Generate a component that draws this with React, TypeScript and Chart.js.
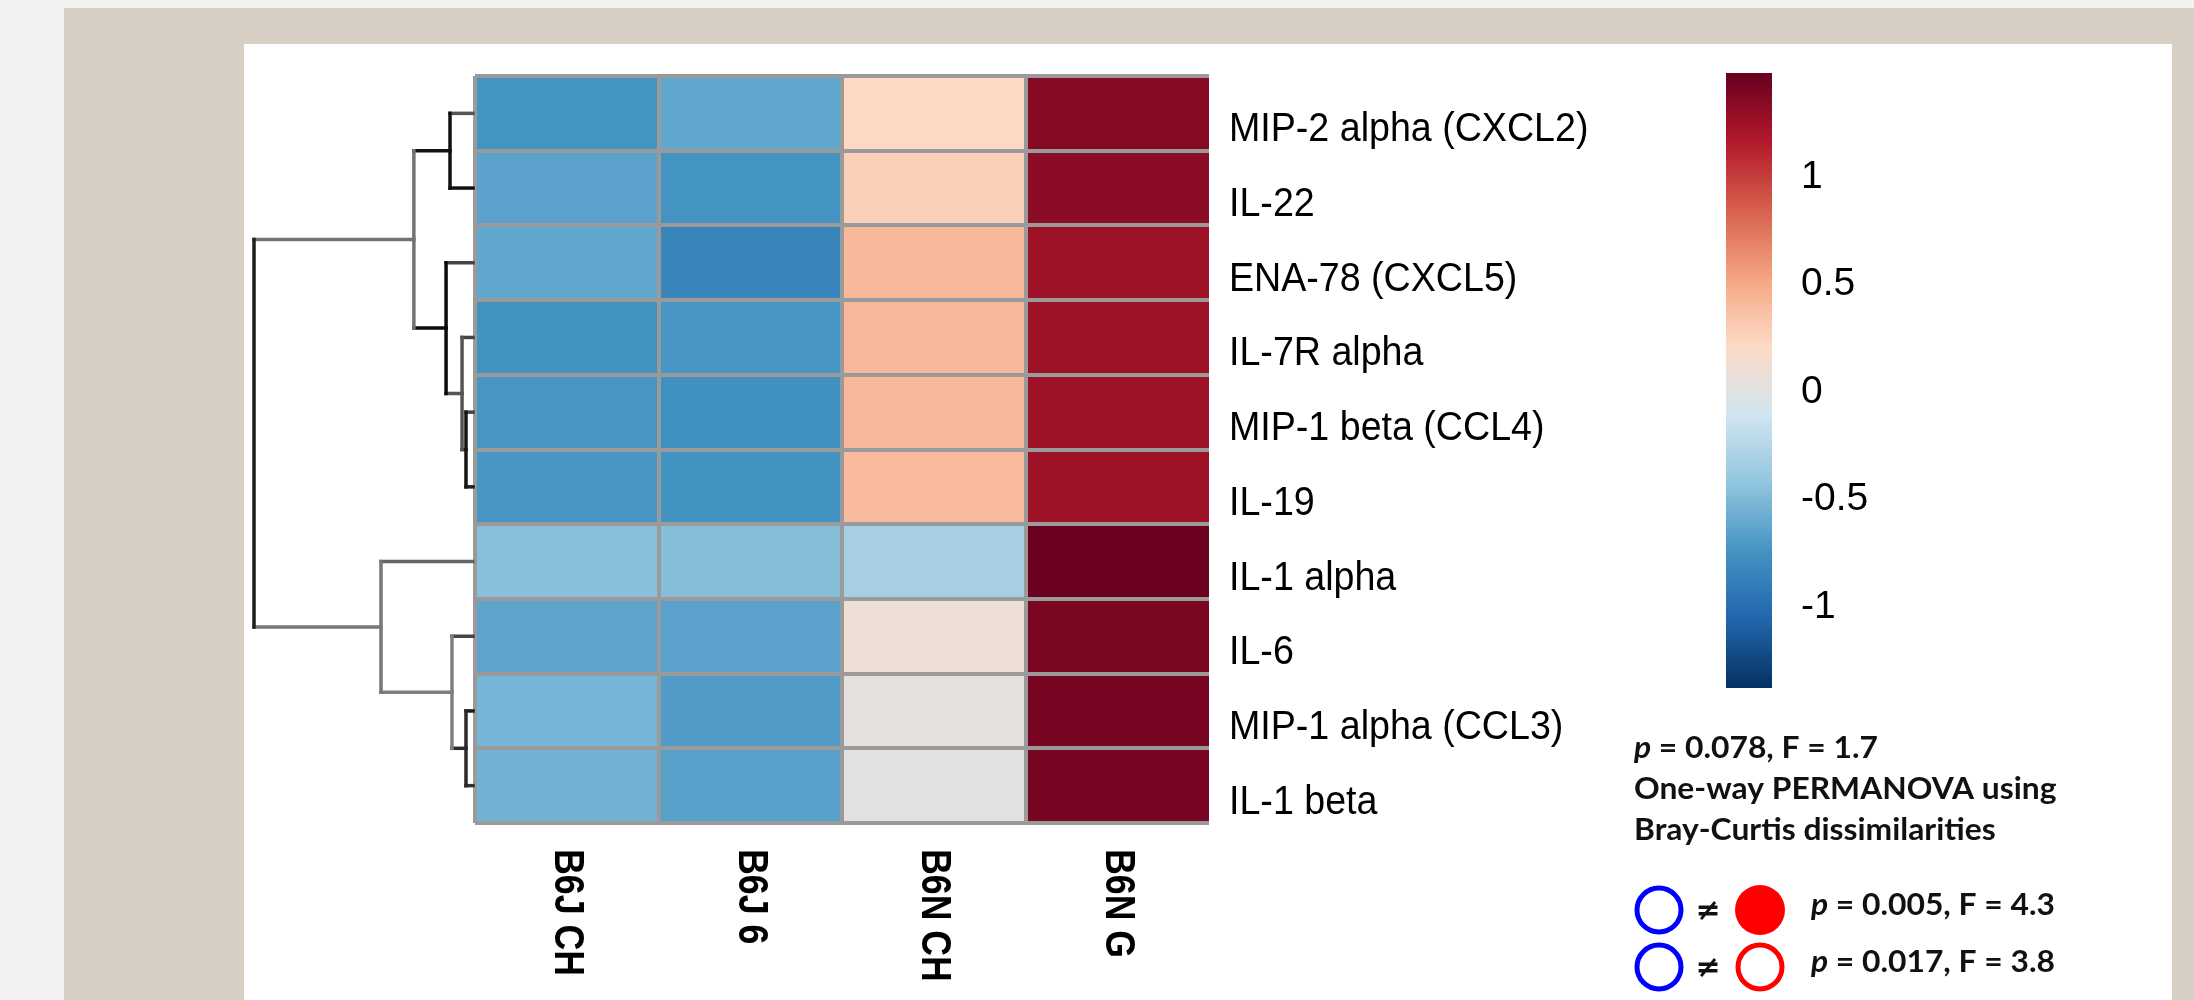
import React, { useEffect, useRef } from 'react';
import { Chart, registerables } from 'chart.js';

Chart.register(...registerables);

// ---------------- data ----------------
const rowLabels = [
  'MIP-2 alpha (CXCL2)',
  'IL-22',
  'ENA-78 (CXCL5)',
  'IL-7R alpha',
  'MIP-1 beta (CCL4)',
  'IL-19',
  'IL-1 alpha',
  'IL-6',
  'MIP-1 alpha (CCL3)',
  'IL-1 beta',
];
const colLabels = ['B6J CH', 'B6J 6', 'B6N CH', 'B6N G'];

const valuesB6JCH = [-0.74, -0.65, -0.62, -0.75, -0.73, -0.72, -0.46, -0.63, -0.53, -0.55];
const valuesB6J6 = [-0.62, -0.74, -0.84, -0.72, -0.76, -0.75, -0.47, -0.65, -0.69, -0.66];
const valuesB6NCH = [0.23, 0.28, 0.41, 0.42, 0.42, 0.4, -0.32, 0.1, 0.04, 0.02];
const valuesB6NG = [1.35, 1.33, 1.25, 1.25, 1.25, 1.25, 1.47, 1.4, 1.41, 1.41];
const columnValues = [valuesB6JCH, valuesB6J6, valuesB6NCH, valuesB6NG];

const colorbarMin = -1.377;
const colorbarMax = 1.484;
const colorbarTicks = [-1, -0.5, 0, 0.5, 1];
const paletteStops = [
  '#053061', '#2166ac', '#4393c3', '#92c5de', '#d1e5f0',
  '#fddbc7', '#f4a582', '#d6604d', '#b2182b', '#67001f',
];

// dendrogram (hclust style: negative = row index+1, positive = earlier merge number)
const dendroMerges = [
  [-5, -6], [-4, 1], [-3, 2], [-1, -2], [4, 3],
  [-9, -10], [-8, 6], [-7, 7], [5, 8],
];
const dendroHeights = [0.032, 0.05, 0.123, 0.105, 0.27, 0.032, 0.096, 0.42, 1.0];

const statsLines = [
  [{ text: 'p', italic: true }, { text: ' = 0.078, F = 1.7' }],
  [{ text: 'One-way PERMANOVA using' }],
  [{ text: 'Bray-Curtis dissimilarities' }],
];
const comparisonFilled = [true, false];
const comparisonTexts = [' = 0.005, F = 4.3', ' = 0.017, F = 3.8'];

// ---------------- styles ----------------
const nodeColors = ['#151515', '#555555', '#0a0a0a', '#111111', '#737373', '#2a2a2a', '#7f7f7f', '#777777', '#1e1e1e'];
const tipColors = ['#555555', '#111111', '#444444', '#444444', '#444444', '#222222', '#666666', '#444444', '#1a1a1a', '#333333'];
const gridGray = '#9a9a9a';

function hexToRgb(h: string) {
  const n = parseInt(h.slice(1), 16);
  return [(n >> 16) & 255, (n >> 8) & 255, n & 255];
}
function valueToColor(v: number) {
  let t = (v - colorbarMin) / (colorbarMax - colorbarMin);
  t = Math.max(0, Math.min(1, t));
  const f = t * (paletteStops.length - 1);
  const i = Math.min(paletteStops.length - 2, Math.floor(f));
  const u = f - i;
  const a = hexToRgb(paletteStops[i]);
  const b = hexToRgb(paletteStops[i + 1]);
  const c = a.map((x, k) => Math.round(x + (b[k] - x) * u));
  return `rgb(${c[0]},${c[1]},${c[2]})`;
}

const W = 2194;
const H = 1000;

const heatLabelsPlugin = {
  id: 'heatLabels',
  afterDraw(chart: any) {
    const { ctx, chartArea, scales } = chart;
    const ys = scales.y;
    const xs = scales.x;
    ctx.save();
    ctx.fillStyle = '#000';
    // row labels
    ctx.font = '40px "Liberation Sans", Arial, sans-serif';
    ctx.textAlign = 'left';
    ctx.textBaseline = 'alphabetic';
    rowLabels.forEach((lab, i) => {
      const y = ys.getPixelForValue(i);
      ctx.save();
      ctx.translate(chartArea.right + 20, y + 28);
      ctx.scale(0.94, 1);
      ctx.fillText(lab, 0, 0);
      ctx.restore();
    });
    // column labels (rotated clockwise)
    ctx.font = 'bold 42px "Liberation Sans", Arial, sans-serif';
    ctx.textBaseline = 'middle';
    colLabels.forEach((lab, j) => {
      const x = xs.getPixelForValue(j + 0.5);
      ctx.save();
      ctx.translate(x, chartArea.bottom + 26);
      ctx.rotate(Math.PI / 2);
      ctx.scale(0.85, 1);
      ctx.fillText(lab, 0, 0);
      ctx.restore();
    });
    // dendrogram
    const tipX = chartArea.left - 2;
    const dw = 219;
    const pos: { x: number; y: number }[] = [];
    const getPos = (r: number) =>
      r < 0 ? { x: tipX, y: ys.getPixelForValue(-r - 1) } : pos[r - 1];
    const colorOf = (r: number) => (r < 0 ? tipColors[-r - 1] : nodeColors[r - 1]);
    ctx.lineWidth = 3.5;
    ctx.lineCap = 'square';
    dendroMerges.forEach(([a, b], k) => {
      const pa = getPos(a);
      const pb = getPos(b);
      const nx = tipX - dendroHeights[k] * dw;
      const ny = (pa.y + pb.y) / 2;
      pos[k] = { x: nx, y: ny };
      [[a, pa], [b, pb]].forEach(([r, p]: any) => {
        ctx.strokeStyle = colorOf(r);
        ctx.beginPath();
        ctx.moveTo(p.x, p.y);
        ctx.lineTo(nx, p.y);
        ctx.stroke();
      });
      ctx.strokeStyle = nodeColors[k];
      ctx.beginPath();
      ctx.moveTo(nx, pa.y);
      ctx.lineTo(nx, pb.y);
      ctx.stroke();
    });
    ctx.restore();
  },
};

const STATS_SIZE = 30;
const STATS_STRETCH = 1.06;

function drawParts(ctx: any, x: number, y: number, parts: { text: string; italic?: boolean }[]) {
  ctx.save();
  ctx.translate(x, y);
  ctx.scale(STATS_STRETCH, 1);
  let cx = 0;
  parts.forEach((p) => {
    ctx.font = `${p.italic ? 'italic ' : ''}bold ${STATS_SIZE}px Lato, "DejaVu Sans", sans-serif`;
    ctx.fillText(p.text, cx, 0);
    cx += ctx.measureText(p.text).width;
  });
  ctx.restore();
}

const statsPlugin = {
  id: 'stats',
  afterDraw(chart: any) {
    const { ctx } = chart;
    ctx.save();
    ctx.fillStyle = '#111';
    ctx.textAlign = 'left';
    ctx.textBaseline = 'alphabetic';
    const baselines = [758, 799, 840];
    statsLines.forEach((parts, i) => drawParts(ctx, 1634, baselines[i], parts));
    const rowsY = [910, 967];
    comparisonTexts.forEach((t, i) => {
      const cy = rowsY[i];
      ctx.lineWidth = 5;
      ctx.strokeStyle = '#0000ff';
      ctx.beginPath();
      ctx.arc(1659, cy, 22, 0, Math.PI * 2);
      ctx.stroke();
      ctx.fillStyle = '#111';
      ctx.font = 'bold 30px "DejaVu Sans", sans-serif';
      ctx.textAlign = 'center';
      ctx.fillText('\u2260', 1708, cy + 10);
      ctx.textAlign = 'left';
      ctx.beginPath();
      ctx.arc(1760, cy, comparisonFilled[i] ? 25 : 22, 0, Math.PI * 2);
      if (comparisonFilled[i]) {
        ctx.fillStyle = '#ff0000';
        ctx.fill();
      } else {
        ctx.strokeStyle = '#ff0000';
        ctx.stroke();
      }
      ctx.fillStyle = '#111';
      drawParts(ctx, 1811, cy + 5, [{ text: 'p', italic: true }, { text: t }]);
    });
    ctx.restore();
  },
};

export default function App() {
  const heatRef = useRef<HTMLCanvasElement | null>(null);
  const barRef = useRef<HTMLCanvasElement | null>(null);

  useEffect(() => {
    const heat = new Chart(heatRef.current as HTMLCanvasElement, {
      type: 'bar',
      data: {
        labels: rowLabels,
        datasets: columnValues.map((vals, j) => ({
          label: colLabels[j],
          data: vals.map(() => [j, j + 1]),
          backgroundColor: vals.map(valueToColor),
          borderWidth: 0,
          barPercentage: 1,
          categoryPercentage: 1,
          grouped: false,
        })) as any,
      },
      options: {
        animation: false,
        responsive: false,
        indexAxis: 'y',
        events: [],
        layout: { padding: { left: 475, top: 76, right: W - 1209, bottom: H - 823 } },
        plugins: { legend: { display: false }, tooltip: { enabled: false } },
        scales: {
          x: {
            type: 'linear',
            min: 0,
            max: colLabels.length,
            ticks: { display: false, stepSize: 1 },
            grid: {
              z: 1,
              color: (c: any) => (c.tick && c.tick.value === colLabels.length ? 'rgba(0,0,0,0)' : gridGray),
              lineWidth: 4,
              drawTicks: false,
            },
            border: { display: false },
          },
          y: {
            type: 'category',
            ticks: { display: false },
            grid: { z: 1, offset: true, color: gridGray, lineWidth: 4, drawTicks: false },
            border: { display: false },
          },
        },
      } as any,
      plugins: [heatLabelsPlugin],
    });

    const bar = new Chart(barRef.current as HTMLCanvasElement, {
      type: 'bar',
      data: {
        labels: ['scale'],
        datasets: [
          {
            data: [[colorbarMin, colorbarMax]],
            backgroundColor: (c: any) => {
              const area = c.chart.chartArea;
              if (!area) return '#ccc';
              const g = c.chart.ctx.createLinearGradient(0, area.bottom, 0, area.top);
              paletteStops.forEach((col, i) => g.addColorStop(i / (paletteStops.length - 1), col));
              return g;
            },
            borderWidth: 0,
            barPercentage: 1,
            categoryPercentage: 1,
          },
        ] as any,
      },
      options: {
        animation: false,
        responsive: false,
        events: [],
        layout: { padding: { left: 1726, top: 73, right: W - 1772 - 200, bottom: H - 688 } },
        plugins: { legend: { display: false }, tooltip: { enabled: false } },
        scales: {
          x: { display: false },
          y: {
            position: 'right',
            min: colorbarMin,
            max: colorbarMax,
            afterBuildTicks: (s: any) => {
              s.ticks = colorbarTicks.map((v) => ({ value: v }));
            },
            afterFit: (s: any) => {
              s.width = 200;
            },
            ticks: {
              color: '#000',
              padding: 29,
              font: { family: '"Liberation Sans", Arial, sans-serif', size: 39 },
              callback: (v: any) => String(v),
            },
            grid: { display: false, drawTicks: false },
            border: { display: false },
          },
        },
      } as any,
      plugins: [statsPlugin],
    });

    return () => {
      heat.destroy();
      bar.destroy();
    };
  }, []);

  return (
    <div style={{ position: 'absolute', left: 0, top: 0, width: W, height: H, overflow: 'hidden', background: '#f3f2f0' }}>
      <div style={{ position: 'absolute', left: 64, top: 8, width: W - 64, height: H - 8, background: '#d7cec4' }} />
      <div style={{ position: 'absolute', left: 244, top: 44, width: 2172 - 244, height: H - 44, background: '#ffffff' }} />
      <canvas ref={heatRef} width={W} height={H} style={{ position: 'absolute', left: 0, top: 0, width: W, height: H }} />
      <canvas ref={barRef} width={W} height={H} style={{ position: 'absolute', left: 0, top: 0, width: W, height: H }} />
    </div>
  );
}
